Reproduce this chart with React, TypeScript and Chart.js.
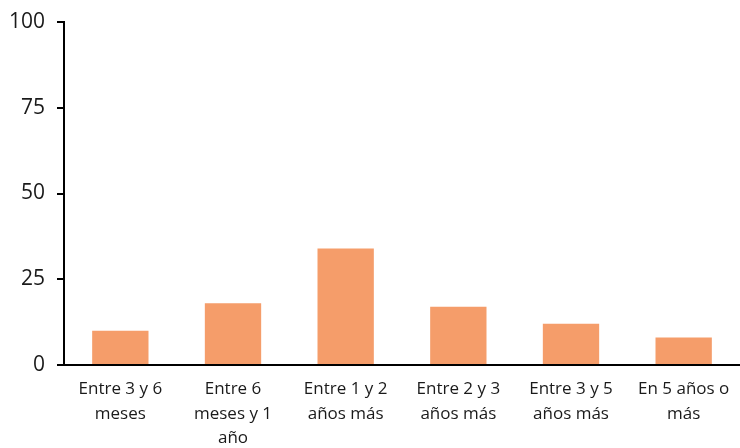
import React, { useEffect, useRef } from "react";
import { Chart, registerables } from "chart.js";

Chart.register(...registerables);

const categories: string[][] = [
  ["Entre 3 y 6", "meses"],
  ["Entre 6", "meses y 1", "año"],
  ["Entre 1 y 2", "años más"],
  ["Entre 2 y 3", "años más"],
  ["Entre 3 y 5", "años más"],
  ["En 5 años o", "más"],
];
const values: number[] = [10, 18, 34, 17, 12, 8];
const yTicks: number[] = [0, 25, 50, 75, 100];

export default function App() {
  const ref = useRef<HTMLCanvasElement | null>(null);
  useEffect(() => {
    if (!ref.current) return;
    const family = "'Open Sans', 'Noto Sans', sans-serif";
    const chart = new Chart(ref.current, {
      type: "bar",
      data: {
        labels: categories,
        datasets: [
          {
            data: values,
            backgroundColor: "#F59D6A",
            borderWidth: 0,
            barPercentage: 0.5,
            categoryPercentage: 1,
          },
        ],
      },
      options: {
        animation: false,
        responsive: false,
        maintainAspectRatio: false,
        layout: { padding: { top: 22, right: 0, left: 0, bottom: 0 } },
        plugins: { legend: { display: false }, tooltip: { enabled: false } },
        scales: {
          x: {
            grid: { display: false },
            border: { display: true, color: "#000", width: 2 },
            ticks: {
              color: "#1a1a1a",
              font: { family, size: 17, lineHeight: 1.45 },
              maxRotation: 0,
              autoSkip: false,
              padding: 4,
            },
            afterFit: (axis: any) => {
              axis.height = 83;
              axis.paddingLeft = 0;
              axis.paddingRight = 0;
            },
          },
          y: {
            min: 0,
            max: 100,
            afterBuildTicks: (axis: any) => {
              axis.ticks = yTicks.map((v) => ({ value: v }));
            },
            grid: { drawOnChartArea: false, drawTicks: true, tickLength: 7, color: "#000", lineWidth: 2 },
            border: { display: true, color: "#000", width: 2 },
            ticks: { color: "#1a1a1a", font: { family, size: 21 }, padding: 12 },
            afterFit: (axis: any) => {
              axis.width = 64;
              axis.paddingTop = 0;
              axis.paddingBottom = 0;
            },
          },
        },
      },
    });
    return () => chart.destroy();
  }, []);
  return (
    <div style={{ position: "fixed", left: 0, top: 0, width: 740, height: 448, background: "#fff" }}>
      <canvas ref={ref} width={740} height={448} />
    </div>
  );
}
